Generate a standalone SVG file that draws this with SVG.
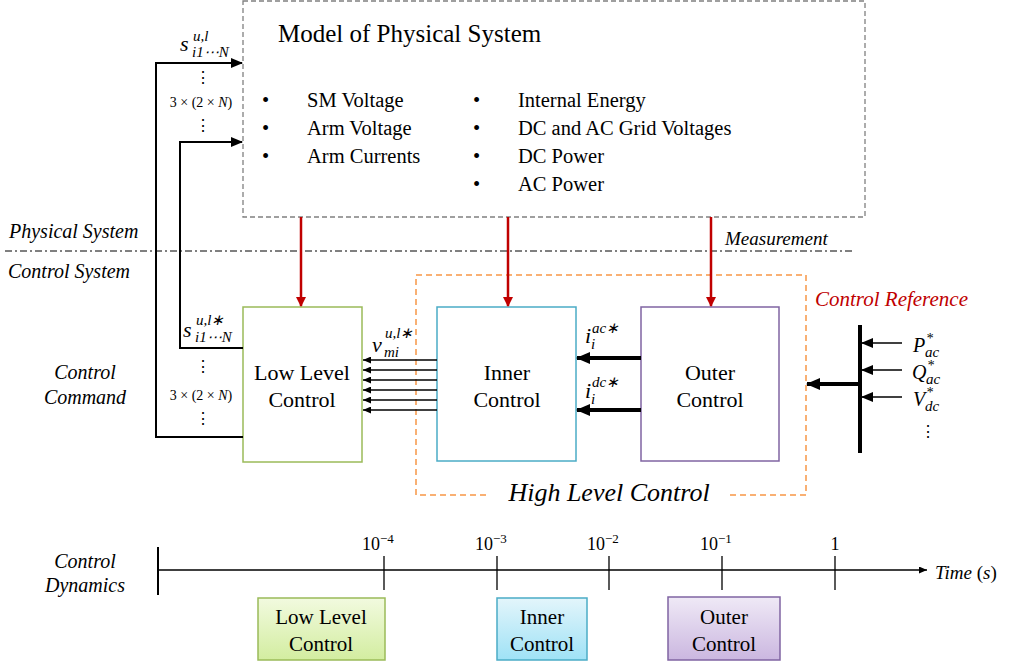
<svg xmlns="http://www.w3.org/2000/svg" width="1010" height="668" viewBox="0 0 1010 668" font-family="Liberation Serif, serif">
<defs>
<marker id="ar" markerWidth="10" markerHeight="10" refX="9" refY="5" orient="auto" markerUnits="userSpaceOnUse" viewBox="0 0 10 10">
<path d="M0,0 L10,5 L0,10 Z" fill="#c00000"/></marker>
<marker id="ab" markerWidth="12" markerHeight="10" refX="11" refY="5" orient="auto" markerUnits="userSpaceOnUse" viewBox="0 0 12 10">
<path d="M0,0 L12,5 L0,10 Z" fill="#000"/></marker>
<marker id="as" markerWidth="8" markerHeight="7" refX="8" refY="3.5" orient="auto" markerUnits="userSpaceOnUse" viewBox="0 0 8 7">
<path d="M0,0 L8,3.5 L0,7 Z" fill="#000"/></marker>
<marker id="ak" markerWidth="14" markerHeight="12" refX="13" refY="6" orient="auto" markerUnits="userSpaceOnUse" viewBox="0 0 14 12">
<path d="M0,0 L14,6 L0,12 Z" fill="#000"/></marker>
<linearGradient id="gG" x1="0" y1="0" x2="0" y2="1"><stop offset="0" stop-color="#f2fadf"/><stop offset="1" stop-color="#d3eda0"/></linearGradient>
<linearGradient id="gB" x1="0" y1="0" x2="0" y2="1"><stop offset="0" stop-color="#e3f5fb"/><stop offset="1" stop-color="#9fe2f6"/></linearGradient>
<linearGradient id="gP" x1="0" y1="0" x2="0" y2="1"><stop offset="0" stop-color="#efe9f6"/><stop offset="1" stop-color="#cbb7e0"/></linearGradient>
</defs>

<line x1="5" y1="251" x2="855" y2="251" stroke="#000" stroke-width="1" stroke-dasharray="7,3,2,3"/>
<g font-family="Liberation Serif, serif" font-style="italic">
<text x="9" y="238" font-size="20">Physical System</text>
<text x="8" y="278" font-size="20">Control System</text>
<text x="725" y="245" font-size="19">Measurement</text>
<text x="85" y="379" font-size="20" text-anchor="middle">Control</text>
<text x="85" y="404" font-size="20" text-anchor="middle">Command</text>
<text x="85" y="568" font-size="20" text-anchor="middle">Control</text>
<text x="85" y="592" font-size="20" text-anchor="middle">Dynamics</text>
</g>

<g id="model" font-family="Liberation Serif, serif">
<rect x="243" y="1" width="622" height="216" fill="#fff" stroke="#808080" stroke-width="1.3" stroke-dasharray="5,3"/>
<text x="278" y="42" font-size="25">Model of Physical System</text>
<g font-size="20.5">
<text x="262" y="107">•</text><text x="307" y="107">SM Voltage</text>
<text x="262" y="135">•</text><text x="307" y="135">Arm Voltage</text>
<text x="262" y="163">•</text><text x="307" y="163">Arm Currents</text>
<text x="473" y="107">•</text><text x="518" y="107">Internal Energy</text>
<text x="473" y="135">•</text><text x="518" y="135">DC and AC Grid Voltages</text>
<text x="473" y="163">•</text><text x="518" y="163">DC Power</text>
<text x="473" y="191">•</text><text x="518" y="191">AC Power</text>
</g>
</g>

<g id="high-level" font-family="Liberation Serif, serif">
<rect x="416" y="275" width="390" height="220" fill="none" stroke="#f79646" stroke-width="1.5" stroke-dasharray="6,4"/>
<rect x="490" y="485" width="240" height="20" fill="#fff"/>
<text x="609" y="501" font-size="26" font-style="italic" text-anchor="middle">High Level Control</text>
</g>

<g id="low-level" font-family="Liberation Serif, serif" font-size="22" text-anchor="middle">
<rect x="243" y="307" width="119" height="155" fill="#fff" stroke="#9bbb59" stroke-width="1.5"/>
<text x="302" y="380">Low Level</text>
<text x="302" y="407">Control</text>
</g>
<g id="inner" font-family="Liberation Serif, serif" font-size="22" text-anchor="middle">
<rect x="437" y="307" width="139" height="154" fill="#fff" stroke="#4bacc6" stroke-width="1.5"/>
<text x="507" y="380">Inner</text>
<text x="507" y="407">Control</text>
</g>
<g id="outer" font-family="Liberation Serif, serif" font-size="22" text-anchor="middle">
<rect x="641" y="307" width="138" height="154" fill="#fff" stroke="#8064a2" stroke-width="1.5"/>
<text x="710" y="380">Outer</text>
<text x="710" y="407">Control</text>
</g>

<g id="control-reference" font-family="Liberation Serif, serif" font-style="italic">
<text x="815" y="306" font-size="21" fill="#c00000">Control Reference</text>
<line x1="860" y1="325" x2="860" y2="453" stroke="#000" stroke-width="4"/>
<text x="913" y="352" font-size="20">P</text><text x="926" y="343" font-size="14">*</text><text x="925" y="357" font-size="15">ac</text>
<text x="912" y="379" font-size="20">Q</text><text x="927" y="370" font-size="14">*</text><text x="926" y="384" font-size="15">ac</text>
<text x="913" y="406" font-size="20">V</text><text x="926" y="397" font-size="14">*</text><text x="925" y="411" font-size="15">dc</text>
<text x="928" y="437" font-size="16" font-style="normal" text-anchor="middle">⋮</text>
</g>

<g id="connectors" fill="none">
<g stroke="#c00000" stroke-width="2.5" marker-end="url(#ar)">
<line x1="301" y1="217" x2="301" y2="306"/>
<line x1="508" y1="217" x2="508" y2="306"/>
<line x1="711" y1="217" x2="711" y2="306"/>
</g>
<g stroke="#000" stroke-width="1.3" marker-end="url(#as)">
<line x1="437" y1="360" x2="363" y2="360"/>
<line x1="437" y1="370" x2="363" y2="370"/>
<line x1="437" y1="380" x2="363" y2="380"/>
<line x1="437" y1="390" x2="363" y2="390"/>
<line x1="437" y1="400" x2="363" y2="400"/>
<line x1="437" y1="410" x2="363" y2="410"/>
</g>
<g stroke="#000" stroke-width="4" marker-end="url(#ak)">
<line x1="641" y1="358" x2="577" y2="358"/>
<line x1="641" y1="410" x2="577" y2="410"/>
<line x1="860" y1="384" x2="807" y2="384"/>
</g>
<g stroke="#000" stroke-width="1.5" marker-end="url(#ab)">
<line x1="902" y1="343" x2="862" y2="343"/>
<line x1="902" y1="370" x2="862" y2="370"/>
<line x1="902" y1="397" x2="862" y2="397"/>
</g>
<g stroke="#000" stroke-width="2" marker-end="url(#ab)">
<polyline points="243,437 156,437 156,63 242,63"/>
<polyline points="243,348 180,348 180,142 242,142"/>
</g>
</g>

<g font-family="Liberation Serif, serif" font-style="italic">
<text x="180" y="51" font-size="22">s</text>
<text x="193" y="41" font-size="15">u,l</text>
<text x="192" y="57" font-size="15">i1⋯N</text>
<text x="183" y="337" font-size="22">s</text>
<text x="196" y="325" font-size="15">u,l∗</text>
<text x="195" y="342" font-size="15">i1⋯N</text>
<text x="372" y="352" font-size="22">v</text>
<text x="385" y="338" font-size="15">u,l∗</text>
<text x="384" y="357" font-size="15">mi</text>
<text x="585" y="343" font-size="22">i</text>
<text x="592" y="333" font-size="15">ac∗</text>
<text x="591" y="349" font-size="15">i</text>
<text x="585" y="398" font-size="22">i</text>
<text x="592" y="387" font-size="15">dc∗</text>
<text x="591" y="404" font-size="15">i</text>
</g>
<g font-family="Liberation Serif, serif" text-anchor="middle">
<text x="203" y="83" font-size="16">⋮</text>
<text x="201" y="107" font-size="14">3 × (2 × <tspan font-style="italic">N</tspan>)</text>
<text x="203" y="131" font-size="16">⋮</text>
<text x="203" y="372" font-size="16">⋮</text>
<text x="201" y="400" font-size="14">3 × (2 × <tspan font-style="italic">N</tspan>)</text>
<text x="203" y="424" font-size="16">⋮</text>
</g>

<g id="timeline" font-family="Liberation Serif, serif">
<line x1="158" y1="547" x2="158" y2="595" stroke="#000" stroke-width="2"/>
<line x1="158" y1="570" x2="927" y2="570" stroke="#000" stroke-width="1.5" marker-end="url(#as)"/>
<g stroke="#000" stroke-width="1.3">
<line x1="384" y1="556" x2="384" y2="590"/>
<line x1="497" y1="556" x2="497" y2="590"/>
<line x1="609" y1="556" x2="609" y2="590"/>
<line x1="722" y1="556" x2="722" y2="590"/>
<line x1="835" y1="556" x2="835" y2="590"/>
</g>
<text x="362" y="550" font-size="18">10<tspan font-size="13" dy="-7">−4</tspan></text>
<text x="475" y="550" font-size="18">10<tspan font-size="13" dy="-7">−3</tspan></text>
<text x="587" y="550" font-size="18">10<tspan font-size="13" dy="-7">−2</tspan></text>
<text x="700" y="550" font-size="18">10<tspan font-size="13" dy="-7">−1</tspan></text>
<text x="835" y="550" font-size="18" text-anchor="middle">1</text>
<text x="935" y="579" font-size="19" font-style="italic">Time<tspan font-style="normal"> (</tspan>s<tspan font-style="normal">)</tspan></text>
</g>

<g id="legend-low" font-family="Liberation Serif, serif" font-size="21" text-anchor="middle">
<rect x="258" y="598" width="127" height="62" fill="url(#gG)" stroke="#9bbb59" stroke-width="1.5"/>
<text x="321" y="624">Low Level</text>
<text x="321" y="651">Control</text>
</g>
<g id="legend-inner" font-family="Liberation Serif, serif" font-size="21" text-anchor="middle">
<rect x="497" y="598" width="90" height="62" fill="url(#gB)" stroke="#4bacc6" stroke-width="1.5"/>
<text x="542" y="624">Inner</text>
<text x="542" y="651">Control</text>
</g>
<g id="legend-outer" font-family="Liberation Serif, serif" font-size="21" text-anchor="middle">
<rect x="668" y="597" width="112" height="63" fill="url(#gP)" stroke="#8064a2" stroke-width="1.5"/>
<text x="724" y="624">Outer</text>
<text x="724" y="651">Control</text>
</g>
</svg>
